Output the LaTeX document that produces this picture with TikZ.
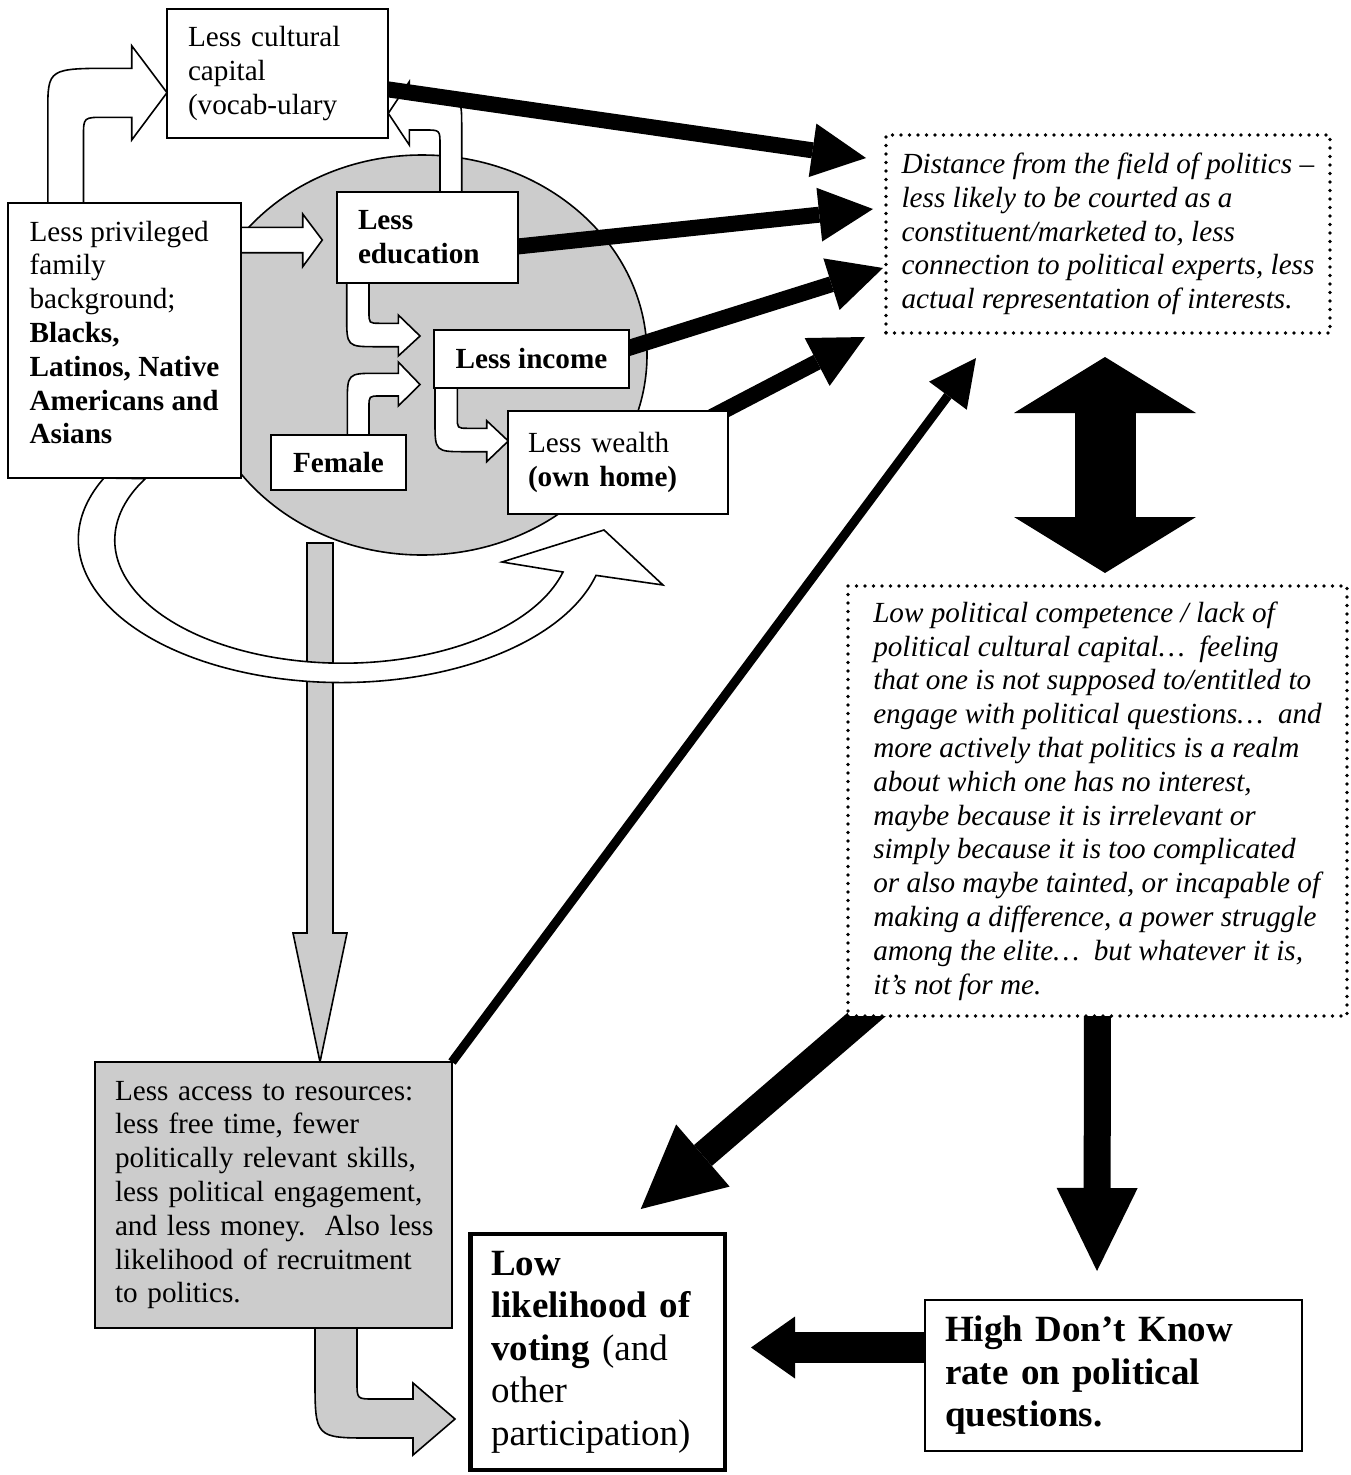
\documentclass[tikz,border=0pt]{standalone}
\usepackage{fontspec}
\setmainfont{Liberation Serif}
\usetikzlibrary{arrows.meta,calc}
\definecolor{greyfill}{RGB}{204,204,204}
\pgfdeclarelayer{back}
\pgfdeclarelayer{mid}
\pgfsetlayers{back,mid,main}
\frenchspacing
\hfuzz=20pt
\tikzset{
  txt/.style={font=\fontsize{29.2}{33.8}\selectfont},
  bigtxt/.style={font=\fontsize{37}{42.5}\selectfont},
  box/.style={draw, line width=1.6pt, fill=white, anchor=north west, outer sep=0pt, inner ysep=0pt, align=left, txt},
  dotbox/.style={box, line width=3.6pt, dash pattern=on 0pt off 8.5pt, line cap=round},
  blockarrow/.style={draw, line width=1.6pt, fill=white},
  link/.style={draw=black, line width=#1},
}

\begin{document}
\begin{tikzpicture}[x=1pt,y=-1pt]
        \useasboundingbox (0,0) rectangle (1351,1475);
        \def\loopband{(104,478) arc[start angle=154.5, end angle=345.5, x radius=263pt, y radius=143pt] -- (663,585) -- (604,530) -- (502,562) -- (563,572) arc[start angle=345, end angle=150, x radius=228pt, y radius=123pt] -- cycle}
        \def\downshaft{(307,543) -- (333,543) -- (333,933) -- (347,933) -- (320,1062) -- (293,933) -- (307,933) -- cycle}
        % boxes
        \node[box, minimum width=221pt, minimum height=129pt, inner xsep=21pt, text width=179pt] (cult) at (167,9) {Less cultural\\capital\\(vocab-ulary};
        \node[box, minimum width=233pt, minimum height=275pt] (priv) at (8,203) {Less privileged\\family\\background;\\\textbf{Blacks,}\\\textbf{Latinos, Native}\\\textbf{Americans and}\\\textbf{Asians}\\[-17.5pt]\mbox{}};
        \node[box, minimum width=181pt, minimum height=91pt, inner xsep=21pt, text width=139pt] (edu) at (337,192) {\textbf{Less}\\\textbf{education}};
        \node[box, align=center, minimum width=195pt, minimum height=58pt] (inc) at (434,330) {\textbf{Less income}};
        \node[box, align=center, minimum width=135pt, minimum height=55pt] (fem) at (271,435) {\textbf{Female}};
        \node[box, minimum width=220pt, minimum height=103pt, inner xsep=20pt, text width=180pt] (wealth) at (508,411) {Less wealth\\\textbf{(own home)}};
        \node[dotbox, minimum width=444pt, minimum height=198pt, font=\fontsize{29.2}{33.8}\selectfont\itshape] (dist) at (886,135) {Distance from the field of politics –\\less likely to be courted as a\\constituent/marketed to, less\\connection to political experts, less\\actual representation of interests.};
        \node[dotbox, minimum width=499pt, minimum height=430pt, font=\fontsize{29.2}{33.8}\selectfont\itshape] (comp) at (848,586) {Low political competence / lack of\\political cultural capital…\ \ feeling\\that one is not supposed to/entitled to\\engage with political questions…\ \ and\\more actively that politics is a realm\\about which one has no interest,\\maybe because it is irrelevant or\\simply because it is too complicated\\or also maybe tainted, or incapable of\\making a difference, a power struggle\\among the elite…\ \ but whatever it is,\\it’s not for me.};
        \node[box, fill=greyfill, minimum width=357pt, minimum height=266pt, inner xsep=20pt, text width=317pt] (res) at (95,1062) {Less access to resources:\\less free time, fewer\\politically relevant skills,\\less political engagement,\\\mbox{and less money.\ \ Also less}\\likelihood of recruitment\\to politics.};
        \node[box, bigtxt, line width=4.5pt, minimum width=254.5pt, minimum height=236pt, inner xsep=20.5pt, text width=213.5pt] (vote) at (470.5,1234) {\textbf{Low}\\\textbf{likelihood of}\\\textbf{voting} (and\\other\\participation)};
        \node[box, bigtxt, minimum width=377pt, minimum height=151pt, inner xsep=20pt, text width=337pt] (dk) at (925,1300) {\textbf{High Don’t Know}\\\textbf{rate on political}\\\textbf{questions.}};
        % arrow ends
        \coordinate (tipA) at ($(dist.west)+(-20,-76)$);
        \coordinate (tipB) at ($(dist.west)+(-13,-25)$);
        \coordinate (tipC) at ($(dist.west)+(-3,34)$);
        \coordinate (tipD) at ($(dist.west)+(-21,103)$);
        \coordinate (tipE) at ($(dist.south west)+(90,25)$);
        \coordinate (tipF) at ($(vote.north)+(43,-25)$);
        \coordinate (tipG) at ($(dk.north)+(-16.5,-29)$);
        \coordinate (tipH) at ($(vote.east)+(26,-4.5)$);
        \coordinate (tipI) at ($(dist.south)+(-3,24)$);
        \coordinate (tipJ) at ($(comp.north)+(7.5,-13)$);
        \begin{pgfonlayer}{mid}
            \draw[link=16pt, -{Triangle[length=54pt,width=54pt,line width=0pt]}] (cult.center) -- (tipA);
            \draw[link=16pt, -{Triangle[length=54pt,width=54pt,line width=0pt]}] ($(edu.east)+(-10,10)$) -- (tipB);
            \draw[link=16pt, -{Triangle[length=54pt,width=54pt,line width=0pt]}] ($(inc.east)+(-10,-8)$) -- (tipC);
            \draw[link=16pt, -{Triangle[length=54pt,width=54pt,line width=0pt]}] ($(wealth.north east)+(-24,10)$) -- (tipD);
            \draw[link=9pt, -{Triangle[length=47pt,width=47pt,line width=0pt]}] (res.north east) -- (tipE);
            \draw[link=27.5pt, -{Triangle[length=82pt,width=82pt,line width=0pt]}] ($(comp.south west)+(32,-13)$) -- (tipF);
            \draw[link=27pt, -{Triangle[length=83pt,width=81pt,line width=0pt]}] ($(comp.south)+(0,-30)$) -- (tipG);
            \draw[link=31pt, -{Triangle[length=44pt,width=62pt,line width=0pt]}] ($(dk.west)+(0,-28)$) -- (tipH);
            \draw[link=61pt, {Triangle[length=56pt,width=182pt,line width=0pt]}-{Triangle[length=56pt,width=182pt,line width=0pt]}] (tipI) -- (tipJ);
        \end{pgfonlayer}
        \begin{pgfonlayer}{back}
            \filldraw[fill=greyfill, draw=black, line width=1.6pt] (422,355) ellipse (225pt and 200pt);
            \filldraw[blockarrow, fill=greyfill] \downshaft;
            \filldraw[blockarrow] \loopband;
            % bent arrows round the circle
            \filldraw[blockarrow] (47.8,210) -- (47.8,112) .. controls (47.8,68.3) .. (115,68.3) -- (131.7,68.3) -- (131.7,45.7) -- (167,92.7) -- (131.7,140) -- (131.7,117.3) -- (105,117.3) .. controls (83.5,117.3) .. (83.5,136) -- (83.5,210) -- cycle;
            \filldraw[blockarrow] (461.7,200) -- (461.7,127) .. controls (461.7,96.7) .. (430,96.7) -- (409.3,96.7) -- (409.3,81.7) -- (388.3,113.3) -- (409.3,145) -- (409.3,130) -- (425,130) .. controls (440,130) .. (440,145) -- (440,200) -- cycle;
            \filldraw[blockarrow] (235,227.3) -- (302.7,227.3) -- (302.7,214) -- (322.3,240) -- (302.7,266.7) -- (302.7,252.7) -- (235,252.7) -- cycle;
            \filldraw[blockarrow] (346.7,278) -- (346.7,316) .. controls (346.7,346.7) .. (377,346.7) -- (398.3,346.7) -- (398.3,356) -- (420,336) -- (398.3,315) -- (398.3,323.3) -- (380,323.3) .. controls (369,323.3) .. (369,312) -- (369,278) -- cycle;
            \filldraw[blockarrow] (347.3,440) -- (347.3,404) .. controls (347.3,373.3) .. (377,373.3) -- (398.3,373.3) -- (398.3,362) -- (420,384.5) -- (398.3,406) -- (398.3,396) -- (380,396) .. controls (369,396) .. (369,407) -- (369,440) -- cycle;
            \filldraw[blockarrow] (435,383) -- (435,421) .. controls (435,451.7) .. (466,451.7) -- (486.7,451.7) -- (486.7,461.7) -- (508.3,441) -- (486.7,420.7) -- (486.7,428.3) -- (468,428.3) .. controls (457.3,428.3) .. (457.3,417) -- (457.3,383) -- cycle;
            \filldraw[blockarrow, fill=greyfill] (315,1320) -- (315,1378) .. controls (315,1438) .. (372,1438) -- (413,1438) -- (413,1455) -- (455,1419) -- (413,1383) -- (413,1399) -- (374,1399) .. controls (357,1399) .. (357,1382) -- (357,1320) -- cycle;
        \end{pgfonlayer}
    \end{tikzpicture}
\end{document}
